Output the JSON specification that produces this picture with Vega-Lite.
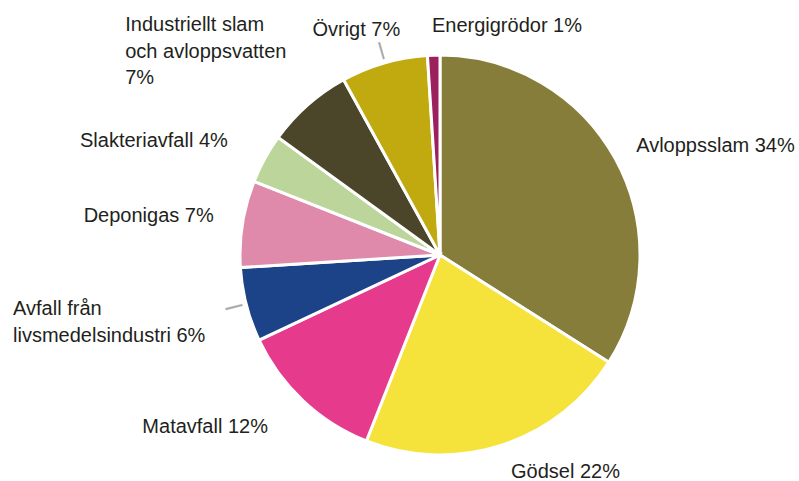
{
  "$schema": "https://vega.github.io/schema/vega-lite/v6.json",
  "width": 718,
  "height": 452,
  "padding": {"left": 81, "top": 29, "right": 0, "bottom": 0},
  "autosize": {"type": "none"},
  "background": "white",
  "config": {"view": {"stroke": null}},
  "data": {"values": [
    {"category": "Avloppsslam", "value": 34, "order": 1, "label": "Avloppsslam 34%"},
    {"category": "Gödsel", "value": 22, "order": 2, "label": "Gödsel 22%"},
    {"category": "Matavfall", "value": 12, "order": 3, "label": "Matavfall 12%"},
    {"category": "Avfall från livsmedelsindustri", "value": 6, "order": 4, "label": "Avfall från\nlivsmedelsindustri 6%"},
    {"category": "Deponigas", "value": 7, "order": 5, "label": "Deponigas 7%"},
    {"category": "Slakteriavfall", "value": 4, "order": 6, "label": "Slakteriavfall 4%"},
    {"category": "Industriellt slam och avloppsvatten", "value": 7, "order": 7, "label": "Industriellt slam\noch avloppsvatten\n7%"},
    {"category": "Övrigt", "value": 7, "order": 8, "label": "Övrigt 7%"},
    {"category": "Energigrödor", "value": 1, "order": 9, "label": "Energigrödor 1%"}
  ]},
  "transform": [
    {"stack": "value", "groupby": [], "sort": [{"field": "order", "order": "ascending"}], "as": ["start", "end"]},
    {"calculate": "(datum.start + datum.end) / 2", "as": "mid"},
    {"calculate": "(datum.start + datum.end) / 2 + 0.12", "as": "midEnd"}
  ],
  "layer": [
    {
      "mark": {"type": "arc", "outerRadius": 200, "stroke": "white", "strokeWidth": 3},
      "encoding": {
        "theta": {"field": "start", "type": "quantitative", "scale": {"domain": [0, 100], "range": [0, 6.283185307179586]}},
        "theta2": {"field": "end"},
        "color": {
          "field": "category", "type": "nominal", "legend": null,
          "scale": {
            "domain": ["Avloppsslam", "Gödsel", "Matavfall", "Avfall från livsmedelsindustri", "Deponigas", "Slakteriavfall", "Industriellt slam och avloppsvatten", "Övrigt", "Energigrödor"],
            "range": ["#877d3a", "#f5e33c", "#e63b8d", "#1c4288", "#e08aab", "#bcd59a", "#4b4629", "#c0aa0f", "#9c1f5e"]
          }
        }
      }
    },
    {
      "transform": [{"filter": "datum.category === 'Övrigt' || datum.category === 'Avfall från livsmedelsindustri'"}],
      "mark": {"type": "arc", "fill": "#a8a8a8", "stroke": "#a8a8a8", "strokeWidth": 0.5},
      "encoding": {
        "theta": {"field": "mid", "type": "quantitative"},
        "theta2": {"field": "midEnd"},
        "radius": {"value": 221},
        "radius2": {"value": 204}
      }
    },
    {
      "transform": [{"filter": "datum.category === 'Avloppsslam'"}],
      "mark": {"type": "text", "align": "left", "baseline": "alphabetic", "dx": -1, "dy": 5, "font": "Liberation Sans", "fontSize": 20, "fill": "#231f20"},
      "encoding": {"theta": {"field": "mid", "type": "quantitative"}, "radius": {"value": 225}, "text": {"field": "label"}}
    },
    {
      "transform": [{"filter": "datum.category === 'Gödsel'"}],
      "mark": {"type": "text", "align": "left", "baseline": "alphabetic", "dx": 1.5, "dy": 9, "font": "Liberation Sans", "fontSize": 20, "fill": "#231f20"},
      "encoding": {"theta": {"field": "mid", "type": "quantitative"}, "radius": {"value": 225}, "text": {"field": "label"}}
    },
    {
      "transform": [{"filter": "datum.category === 'Matavfall'"}],
      "mark": {"type": "text", "align": "right", "baseline": "alphabetic", "dx": -18, "dy": 14, "font": "Liberation Sans", "fontSize": 20, "fill": "#231f20"},
      "encoding": {"theta": {"field": "mid", "type": "quantitative"}, "radius": {"value": 225}, "text": {"field": "label"}}
    },
    {
      "transform": [{"filter": "datum.category === 'Avfall från livsmedelsindustri'"}],
      "mark": {"type": "text", "align": "left", "baseline": "alphabetic", "dx": -209, "dy": 4, "lineBreak": "\n", "lineHeight": 27, "font": "Liberation Sans", "fontSize": 20, "fill": "#231f20"},
      "encoding": {"theta": {"field": "mid", "type": "quantitative"}, "radius": {"value": 225}, "text": {"field": "label"}}
    },
    {
      "transform": [{"filter": "datum.category === 'Deponigas'"}],
      "mark": {"type": "text", "align": "right", "baseline": "alphabetic", "dx": -4, "dy": 2, "font": "Liberation Sans", "fontSize": 20, "fill": "#231f20"},
      "encoding": {"theta": {"field": "mid", "type": "quantitative"}, "radius": {"value": 225}, "text": {"field": "label"}}
    },
    {
      "transform": [{"filter": "datum.category === 'Slakteriavfall'"}],
      "mark": {"type": "text", "align": "right", "baseline": "alphabetic", "dx": -15, "dy": 0, "font": "Liberation Sans", "fontSize": 20, "fill": "#231f20"},
      "encoding": {"theta": {"field": "mid", "type": "quantitative"}, "radius": {"value": 225}, "text": {"field": "label"}}
    },
    {
      "transform": [{"filter": "datum.category === 'Industriellt slam och avloppsvatten'"}],
      "mark": {"type": "text", "align": "left", "baseline": "alphabetic", "dx": -166, "dy": -55, "lineBreak": "\n", "lineHeight": 26.5, "font": "Liberation Sans", "fontSize": 20, "fill": "#231f20"},
      "encoding": {"theta": {"field": "mid", "type": "quantitative"}, "radius": {"value": 225}, "text": {"field": "label"}}
    },
    {
      "transform": [{"filter": "datum.category === 'Övrigt'"}],
      "mark": {"type": "text", "align": "right", "baseline": "alphabetic", "dx": 23, "dy": -3, "font": "Liberation Sans", "fontSize": 20, "fill": "#231f20"},
      "encoding": {"theta": {"field": "mid", "type": "quantitative"}, "radius": {"value": 225}, "text": {"field": "label"}}
    },
    {
      "transform": [{"filter": "datum.category === 'Energigrödor'"}],
      "mark": {"type": "text", "align": "left", "baseline": "alphabetic", "dx": -1, "dy": 2, "font": "Liberation Sans", "fontSize": 20, "fill": "#231f20"},
      "encoding": {"theta": {"field": "mid", "type": "quantitative"}, "radius": {"value": 225}, "text": {"field": "label"}}
    }
  ]
}
